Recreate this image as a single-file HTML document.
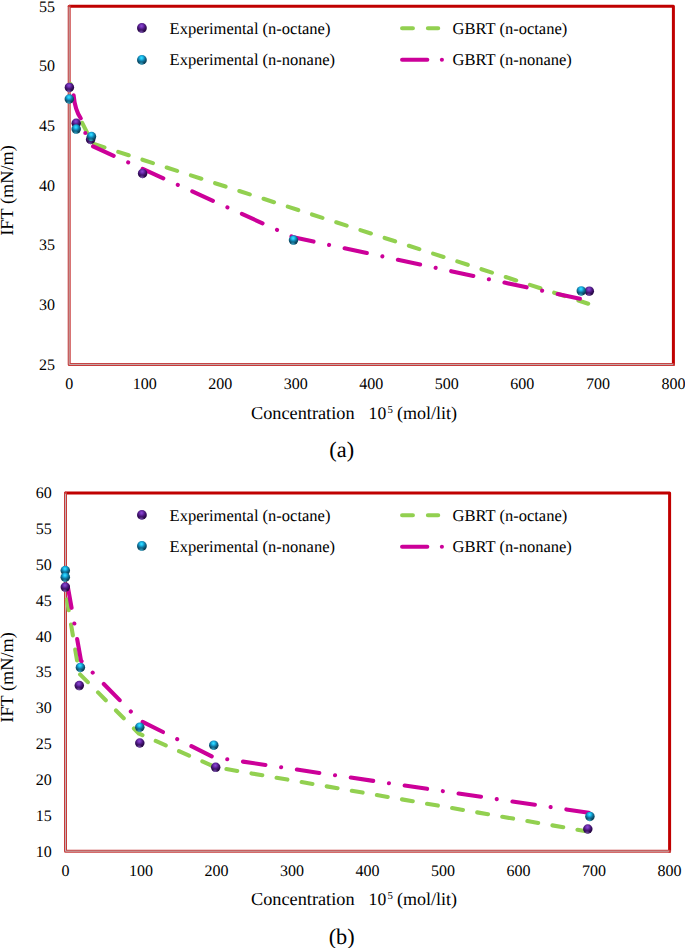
<!DOCTYPE html>
<html><head><meta charset="utf-8"><style>
html,body{margin:0;padding:0;background:#fff;}
svg{display:block;}
text{font-family:"Liberation Serif", serif;fill:#000;text-rendering:geometricPrecision;}
</style></head><body>
<svg width="685" height="948" viewBox="0 0 685 948">
<defs>
<radialGradient id="gp" cx="0.46" cy="0.28" r="0.8" fx="0.46" fy="0.3">
<stop offset="0" stop-color="#8e4ad2"/><stop offset="0.2" stop-color="#7232b6"/><stop offset="0.42" stop-color="#4c187e"/><stop offset="0.65" stop-color="#2e0a50"/><stop offset="1" stop-color="#1a032c"/>
</radialGradient>
<radialGradient id="gc" cx="0.46" cy="0.28" r="0.8" fx="0.46" fy="0.3">
<stop offset="0" stop-color="#3ce6ff"/><stop offset="0.2" stop-color="#1cbcee"/><stop offset="0.42" stop-color="#117ca6"/><stop offset="0.65" stop-color="#0b4c68"/><stop offset="1" stop-color="#05283a"/>
</radialGradient>
<radialGradient id="rp" cx="0.42" cy="1.04" r="0.38">
<stop offset="0" stop-color="#a474e4" stop-opacity="0.9"/><stop offset="1" stop-color="#a474e4" stop-opacity="0"/>
</radialGradient>
<radialGradient id="rc" cx="0.42" cy="1.04" r="0.38">
<stop offset="0" stop-color="#4cd8ff" stop-opacity="0.9"/><stop offset="1" stop-color="#4cd8ff" stop-opacity="0"/>
</radialGradient>
</defs>
<path d="M69.2,6.3 L673.4,6.3 L673.4,364.4" fill="none" stroke="#c00000" stroke-width="3" stroke-linejoin="round" stroke-linecap="round"/>
<path d="M69.2,6.3 L69.2,364.4 L673.4,364.4" fill="none" stroke="#c83a3a" stroke-width="3" stroke-linejoin="round" stroke-linecap="round"/>
<path d="M69.2,7.1 L69.2,364.4 L672.9,364.4" fill="none" stroke="#c4b4b4" stroke-width="1"/>
<text x="55" y="369.7" text-anchor="end" font-size="16">25</text>
<text x="55" y="310.02" text-anchor="end" font-size="16">30</text>
<text x="55" y="250.33" text-anchor="end" font-size="16">35</text>
<text x="55" y="190.65" text-anchor="end" font-size="16">40</text>
<text x="55" y="130.97" text-anchor="end" font-size="16">45</text>
<text x="55" y="71.28" text-anchor="end" font-size="16">50</text>
<text x="55" y="11.6" text-anchor="end" font-size="16">55</text>
<text x="69.2" y="388.6" text-anchor="middle" font-size="16">0</text>
<text x="144.72" y="388.6" text-anchor="middle" font-size="16">100</text>
<text x="220.25" y="388.6" text-anchor="middle" font-size="16">200</text>
<text x="295.77" y="388.6" text-anchor="middle" font-size="16">300</text>
<text x="371.3" y="388.6" text-anchor="middle" font-size="16">400</text>
<text x="446.82" y="388.6" text-anchor="middle" font-size="16">500</text>
<text x="522.35" y="388.6" text-anchor="middle" font-size="16">600</text>
<text x="597.88" y="388.6" text-anchor="middle" font-size="16">700</text>
<text x="673.4" y="388.6" text-anchor="middle" font-size="16">800</text>
<path d="M70.6,84 L71.2,87.5" fill="none" stroke="#92d050" stroke-width="4.1" stroke-linecap="round" stroke-linejoin="round"/>
<path d="M82.2,122.9 L87,132.4" fill="none" stroke="#92d050" stroke-width="4.1" stroke-linecap="round" stroke-linejoin="round"/>
<path d="M90.6,142.96 L588.2,303.68" fill="none" stroke="#92d050" stroke-width="4.1" stroke-linecap="round" stroke-linejoin="round" stroke-dasharray="11 14.45" stroke-dashoffset="21.85" />
<path d="M73.6,95.2 Q75,110 80.8,118.3" fill="none" stroke="#cc0099" stroke-width="4.1" stroke-linecap="round"/>
<circle cx="85.3" cy="133" r="2.05" fill="#cc0099"/>
<path d="M89.5,144.8 L293.5,237.3 L582.3,299.3" fill="none" stroke="#cc0099" stroke-width="4.1" stroke-linecap="round" stroke-linejoin="round" stroke-dasharray="22.7 15.88 0.02 15.88" stroke-dashoffset="50.6" />
<circle cx="69.4" cy="87.4" r="4.75" fill="url(#gp)"/><circle cx="69.4" cy="87.4" r="4.75" fill="url(#rp)"/>
<circle cx="76.2" cy="123.3" r="4.75" fill="url(#gp)"/><circle cx="76.2" cy="123.3" r="4.75" fill="url(#rp)"/>
<circle cx="90.6" cy="139.5" r="4.75" fill="url(#gp)"/><circle cx="90.6" cy="139.5" r="4.75" fill="url(#rp)"/>
<circle cx="142.6" cy="173.4" r="4.75" fill="url(#gp)"/><circle cx="142.6" cy="173.4" r="4.75" fill="url(#rp)"/>
<circle cx="589.3" cy="291.2" r="4.75" fill="url(#gp)"/><circle cx="589.3" cy="291.2" r="4.75" fill="url(#rp)"/>
<circle cx="69.3" cy="99" r="4.75" fill="url(#gc)"/><circle cx="69.3" cy="99" r="4.75" fill="url(#rc)"/>
<circle cx="76.2" cy="129.1" r="4.75" fill="url(#gc)"/><circle cx="76.2" cy="129.1" r="4.75" fill="url(#rc)"/>
<circle cx="91.5" cy="136.5" r="4.75" fill="url(#gc)"/><circle cx="91.5" cy="136.5" r="4.75" fill="url(#rc)"/>
<circle cx="293.5" cy="240.1" r="4.75" fill="url(#gc)"/><circle cx="293.5" cy="240.1" r="4.75" fill="url(#rc)"/>
<circle cx="581.3" cy="290.9" r="4.75" fill="url(#gc)"/><circle cx="581.3" cy="290.9" r="4.75" fill="url(#rc)"/>
<circle cx="141.9" cy="28" r="4.9" fill="url(#gp)"/><circle cx="141.9" cy="28" r="4.9" fill="url(#rp)"/>
<circle cx="141.9" cy="59.9" r="4.9" fill="url(#gc)"/><circle cx="141.9" cy="59.9" r="4.9" fill="url(#rc)"/>
<text x="169.6" y="33.6" font-size="16.5">Experimental (n-octane)</text>
<text x="169.6" y="64.8" font-size="16.5">Experimental (n-nonane)</text>
<path d="M402.1,28.3 L412.9,28.3 M427.9,28.3 L438.2,28.3" stroke="#92d050" stroke-width="4.1" stroke-linecap="round"/>
<path d="M402.1,59.8 L427.3,59.8" stroke="#cc0099" stroke-width="4.1" stroke-linecap="round"/>
<circle cx="441.9" cy="59.8" r="2.05" fill="#cc0099"/>
<text x="452.6" y="33.6" font-size="16.5">GBRT (n-octane)</text>
<text x="452.6" y="64.8" font-size="16.5">GBRT (n-nonane)</text>
<text x="251" y="418.6" font-size="18.3">Concentration</text>
<text x="368.6" y="418.6" font-size="17.6">10</text>
<text x="387.4" y="413.2" font-size="10.8">5</text>
<text x="397" y="418.6" font-size="18">(mol/lit)</text>
<text x="341.7" y="457" text-anchor="middle" font-size="22.3">(a)</text>
<path d="M65.5,493 L669.6,493 L669.6,851.2" fill="none" stroke="#c00000" stroke-width="3" stroke-linejoin="round" stroke-linecap="round"/>
<path d="M65.5,493 L65.5,851.2 L669.6,851.2" fill="none" stroke="#c83a3a" stroke-width="3" stroke-linejoin="round" stroke-linecap="round"/>
<path d="M65.5,493.8 L65.5,851.2 L669.1,851.2" fill="none" stroke="#c4b4b4" stroke-width="1"/>
<text x="51.8" y="856.5" text-anchor="end" font-size="16">10</text>
<text x="51.8" y="820.68" text-anchor="end" font-size="16">15</text>
<text x="51.8" y="784.86" text-anchor="end" font-size="16">20</text>
<text x="51.8" y="749.04" text-anchor="end" font-size="16">25</text>
<text x="51.8" y="713.22" text-anchor="end" font-size="16">30</text>
<text x="51.8" y="677.4" text-anchor="end" font-size="16">35</text>
<text x="51.8" y="641.58" text-anchor="end" font-size="16">40</text>
<text x="51.8" y="605.76" text-anchor="end" font-size="16">45</text>
<text x="51.8" y="569.94" text-anchor="end" font-size="16">50</text>
<text x="51.8" y="534.12" text-anchor="end" font-size="16">55</text>
<text x="51.8" y="498.3" text-anchor="end" font-size="16">60</text>
<text x="65.5" y="875.5" text-anchor="middle" font-size="16">0</text>
<text x="141.01" y="875.5" text-anchor="middle" font-size="16">100</text>
<text x="216.53" y="875.5" text-anchor="middle" font-size="16">200</text>
<text x="292.04" y="875.5" text-anchor="middle" font-size="16">300</text>
<text x="367.55" y="875.5" text-anchor="middle" font-size="16">400</text>
<text x="443.06" y="875.5" text-anchor="middle" font-size="16">500</text>
<text x="518.58" y="875.5" text-anchor="middle" font-size="16">600</text>
<text x="594.09" y="875.5" text-anchor="middle" font-size="16">700</text>
<text x="669.6" y="875.5" text-anchor="middle" font-size="16">800</text>
<path d="M65.5,591 L79.2,673.5 L139.1,733.7 L215.6,767.2 L587.8,831.5" fill="none" stroke="#92d050" stroke-width="4.1" stroke-linecap="round" stroke-linejoin="round" stroke-dasharray="11 14.45" stroke-dashoffset="16.93" />
<path d="M65.5,573.7 L81,660.7 L139.32,720.23 L213.75,757.3 L589.9,812.9" fill="none" stroke="#cc0099" stroke-width="4.1" stroke-linecap="round" stroke-linejoin="round" stroke-dasharray="22.7 15.88 0.02 15.88" stroke-dashoffset="42.49" />
<circle cx="65.3" cy="587.1" r="4.75" fill="url(#gp)"/><circle cx="65.3" cy="587.1" r="4.75" fill="url(#rp)"/>
<circle cx="79.3" cy="685.6" r="4.75" fill="url(#gp)"/><circle cx="79.3" cy="685.6" r="4.75" fill="url(#rp)"/>
<circle cx="139.8" cy="743" r="4.75" fill="url(#gp)"/><circle cx="139.8" cy="743" r="4.75" fill="url(#rp)"/>
<circle cx="215.7" cy="767.3" r="4.75" fill="url(#gp)"/><circle cx="215.7" cy="767.3" r="4.75" fill="url(#rp)"/>
<circle cx="587.8" cy="829" r="4.75" fill="url(#gp)"/><circle cx="587.8" cy="829" r="4.75" fill="url(#rp)"/>
<circle cx="65.3" cy="570.6" r="4.75" fill="url(#gc)"/><circle cx="65.3" cy="570.6" r="4.75" fill="url(#rc)"/>
<circle cx="65.3" cy="577.2" r="4.75" fill="url(#gc)"/><circle cx="65.3" cy="577.2" r="4.75" fill="url(#rc)"/>
<circle cx="80.4" cy="667.4" r="4.75" fill="url(#gc)"/><circle cx="80.4" cy="667.4" r="4.75" fill="url(#rc)"/>
<circle cx="139.8" cy="727.2" r="4.75" fill="url(#gc)"/><circle cx="139.8" cy="727.2" r="4.75" fill="url(#rc)"/>
<circle cx="213.8" cy="745.2" r="4.75" fill="url(#gc)"/><circle cx="213.8" cy="745.2" r="4.75" fill="url(#rc)"/>
<circle cx="589.9" cy="816.4" r="4.75" fill="url(#gc)"/><circle cx="589.9" cy="816.4" r="4.75" fill="url(#rc)"/>
<circle cx="141.9" cy="514.9" r="4.9" fill="url(#gp)"/><circle cx="141.9" cy="514.9" r="4.9" fill="url(#rp)"/>
<circle cx="141.9" cy="545.97" r="4.9" fill="url(#gc)"/><circle cx="141.9" cy="545.97" r="4.9" fill="url(#rc)"/>
<text x="169.6" y="520.5" font-size="16.5">Experimental (n-octane)</text>
<text x="169.6" y="551.7" font-size="16.5">Experimental (n-nonane)</text>
<path d="M402.1,515.2 L412.9,515.2 M427.9,515.2 L438.2,515.2" stroke="#92d050" stroke-width="4.1" stroke-linecap="round"/>
<path d="M402.1,546.7 L427.3,546.7" stroke="#cc0099" stroke-width="4.1" stroke-linecap="round"/>
<circle cx="441.9" cy="546.7" r="2.05" fill="#cc0099"/>
<text x="452.6" y="520.5" font-size="16.5">GBRT (n-octane)</text>
<text x="452.6" y="551.7" font-size="16.5">GBRT (n-nonane)</text>
<text x="251" y="904.6" font-size="18.3">Concentration</text>
<text x="368.6" y="904.6" font-size="17.6">10</text>
<text x="387.4" y="899.2" font-size="10.8">5</text>
<text x="397" y="904.6" font-size="18">(mol/lit)</text>
<text x="341.7" y="944" text-anchor="middle" font-size="22.3">(b)</text>
<text transform="translate(12.7,190.5) rotate(-90)" text-anchor="middle" font-size="18.3">IFT (mN/m)</text>
<text transform="translate(12.7,677.4) rotate(-90)" text-anchor="middle" font-size="18.3">IFT (mN/m)</text>
</svg>
</body></html>
